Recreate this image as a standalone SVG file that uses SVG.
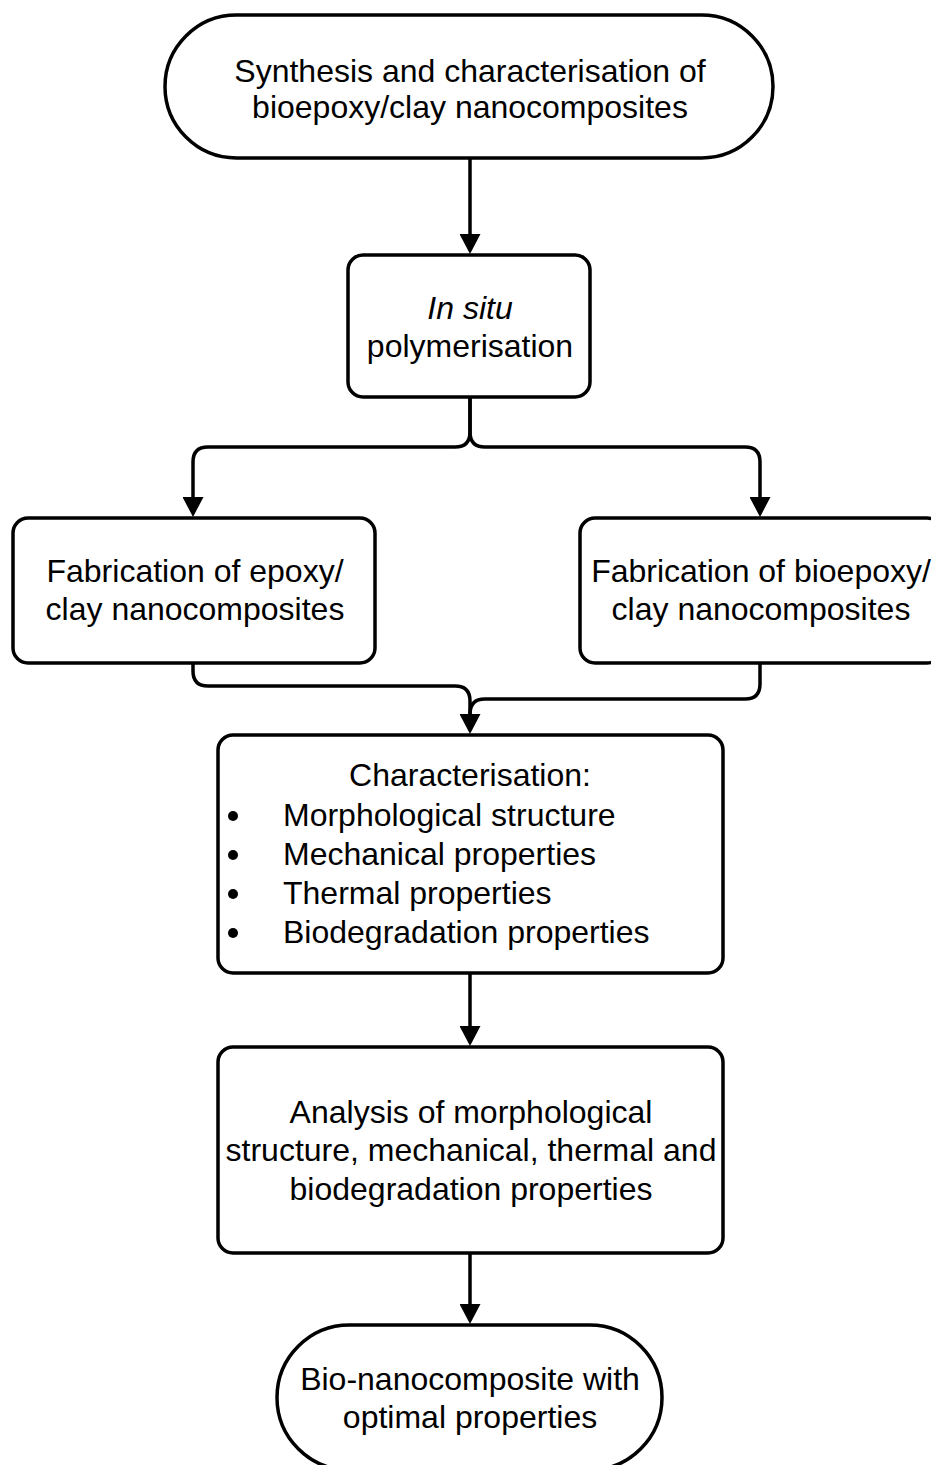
<svg xmlns="http://www.w3.org/2000/svg" width="931" height="1465" viewBox="0 0 931 1465">
<style>
.n{fill:#fff;stroke:#000;stroke-width:3.5}
.c{fill:none;stroke:#000;stroke-width:3.5}
text{font-family:"Liberation Sans",Arial,sans-serif;font-size:32px;fill:#000}
.m{text-anchor:middle}
</style>
<defs>
<marker id="ah" markerUnits="userSpaceOnUse" markerWidth="20" markerHeight="21" refX="0" refY="10.5" orient="auto" viewBox="0 0 20 21">
<path d="M0,0 L20,10.5 L0,21 z" fill="#000"/>
</marker>
</defs>
<rect width="931" height="1465" fill="#fff"/>
<g id="connectors">
<path class="c" d="M470,158 V234" marker-end="url(#ah)"/>
<path class="c" d="M470,397 V432 Q470,447 455,447 H208 Q193,447 193,462 V497" marker-end="url(#ah)"/>
<path class="c" d="M470,397 V432 Q470,447 485,447 H745 Q760,447 760,462 V497" marker-end="url(#ah)"/>
<path class="c" d="M193,663 V671 Q193,686 208,686 H455 Q470,686 470,701 V714" marker-end="url(#ah)"/>
<path class="c" d="M760,663 V684 Q760,699 745,699 H485 Q470,699 470,714"/>
<path class="c" d="M470,973 V1026" marker-end="url(#ah)"/>
<path class="c" d="M470,1253 V1304" marker-end="url(#ah)"/>
</g>
<g id="start">
<rect class="n" x="165" y="15" width="608" height="143" rx="71.5" ry="71.5"/>
<text class="m" x="470" y="82">Synthesis and characterisation of</text>
<text class="m" x="470" y="118">bioepoxy/clay nanocomposites</text>
</g>
<g id="insitu">
<rect class="n" x="348" y="255" width="242" height="142" rx="15"/>
<text class="m" x="470" y="319" font-style="italic">In situ</text>
<text class="m" x="470" y="357">polymerisation</text>
</g>
<g id="fab-epoxy">
<rect class="n" x="13" y="518" width="362" height="145" rx="15"/>
<text class="m" x="195" y="582">Fabrication of epoxy/</text>
<text class="m" x="195" y="620">clay nanocomposites</text>
</g>
<g id="fab-bioepoxy">
<rect class="n" x="580" y="518" width="362" height="145" rx="15"/>
<text class="m" x="761" y="582">Fabrication of bioepoxy/</text>
<text class="m" x="761" y="620">clay nanocomposites</text>
</g>
<g id="characterisation">
<rect class="n" x="218" y="735" width="505" height="238" rx="15"/>
<text class="m" x="470" y="786">Characterisation:</text>
<circle cx="233" cy="816" r="5"/>
<circle cx="233" cy="855" r="5"/>
<circle cx="233" cy="894" r="5"/>
<circle cx="233" cy="933" r="5"/>
<text x="283" y="826">Morphological structure</text>
<text x="283" y="865">Mechanical properties</text>
<text x="283" y="904">Thermal properties</text>
<text x="283" y="943">Biodegradation properties</text>
</g>
<g id="analysis">
<rect class="n" x="218" y="1047" width="505" height="206" rx="15"/>
<text class="m" x="471" y="1123">Analysis of morphological</text>
<text class="m" x="471" y="1161">structure, mechanical, thermal and</text>
<text class="m" x="471" y="1200">biodegradation properties</text>
</g>
<g id="end">
<rect class="n" x="277" y="1325" width="385" height="145" rx="72.5" ry="72.5"/>
<text class="m" x="470" y="1390">Bio-nanocomposite with</text>
<text class="m" x="470" y="1428">optimal properties</text>
</g>
</svg>
